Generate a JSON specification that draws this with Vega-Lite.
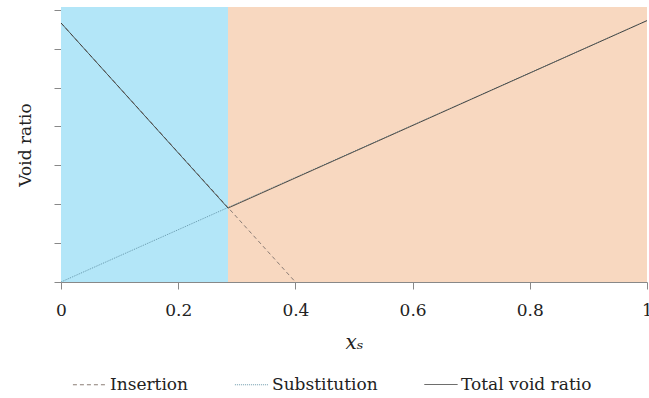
{
  "$schema": "https://vega.github.io/schema/vega-lite/v6.json",
  "width": 586,
  "height": 275,
  "autosize": {"type": "none"},
  "padding": {"left": 61, "top": 7, "right": 2, "bottom": 116},
  "background": "white",
  "config": {
    "view": {"stroke": null},
    "font": "DejaVu Serif",
    "axis": {"labelFont": "DejaVu Serif", "titleFont": "DejaVu Serif", "domainColor": "#888", "tickColor": "#888", "grid": false},
    "legend": {"labelFont": "DejaVu Serif"}
  },
  "datasets": {
    "regions": [
      {"x0": 0, "x1": 0.285, "region": "insertion"},
      {"x0": 0.285, "x1": 1, "region": "substitution"}
    ],
    "lines": [
      {"series": "Insertion", "x": 0, "y": 0.666},
      {"series": "Insertion", "x": 0.4, "y": 0},
      {"series": "Substitution", "x": 0, "y": 0},
      {"series": "Substitution", "x": 1, "y": 0.672},
      {"series": "Total void ratio", "x": 0, "y": 0.666},
      {"series": "Total void ratio", "x": 0.285, "y": 0.19},
      {"series": "Total void ratio", "x": 1, "y": 0.672}
    ]
  },
  "layer": [
    {
      "data": {"name": "regions"},
      "mark": {"type": "rect"},
      "encoding": {
        "x": {"field": "x0", "type": "quantitative", "scale": {"domain": [0, 1], "nice": false, "zero": false},
          "axis": {"values": [0, 0.2, 0.4, 0.6, 0.8, 1], "labelFlush": false, "labelExpr": "datum.value == 0 ? '0' : datum.value == 1 ? '1' : format(datum.value, '.1f')", "labelFontSize": 17, "labelColor": "#222", "labelPadding": 13, "tickSize": 7, "title": "xₛ", "titleFontStyle": "italic", "titleFontWeight": "normal", "titleFontSize": 20, "titleColor": "#222", "titlePadding": 14}},
        "x2": {"field": "x1"},
        "y": {"datum": 0, "type": "quantitative", "scale": {"domain": [0, 0.707], "nice": false},
          "axis": {"values": [0, 0.1, 0.2, 0.3, 0.4, 0.5, 0.6, 0.7], "labels": false, "tickSize": 7, "title": "Void ratio", "titleFontSize": 17, "titleFontWeight": "normal", "titleColor": "#222", "titlePadding": 19}},
        "y2": {"datum": 0.707},
        "fill": {"field": "region", "type": "nominal", "scale": {"domain": ["insertion", "substitution"], "range": ["#b3e6f8", "#f8d8c0"]}, "legend": null}
      }
    },
    {
      "data": {"name": "lines"},
      "mark": {"type": "line", "clip": true},
      "encoding": {
        "x": {
          "field": "x", "type": "quantitative",
          "scale": {"domain": [0, 1], "nice": false, "zero": false},
          "axis": {"values": [0, 0.2, 0.4, 0.6, 0.8, 1], "labelFlush": false, "labelExpr": "datum.value == 0 ? '0' : datum.value == 1 ? '1' : format(datum.value, '.1f')", "labelFontSize": 17, "labelColor": "#222", "labelPadding": 13, "tickSize": 7, "title": "xₛ", "titleFontStyle": "italic", "titleFontWeight": "normal", "titleFontSize": 20, "titleColor": "#222", "titlePadding": 14}
        },
        "y": {
          "field": "y", "type": "quantitative",
          "scale": {"domain": [0, 0.707], "nice": false},
          "axis": {"values": [0, 0.1, 0.2, 0.3, 0.4, 0.5, 0.6, 0.7], "labels": false, "tickSize": 7, "title": "Void ratio", "titleFontSize": 17, "titleFontWeight": "normal", "titleColor": "#222", "titlePadding": 19}
        },
        "color": {
          "field": "series", "type": "nominal",
          "scale": {"domain": ["Insertion", "Substitution", "Total void ratio"], "range": ["#8a7c74", "#5d8ea3", "#1e1e1c"]},
          "legend": {"orient": "none", "legendX": 11, "legendY": 360, "direction": "horizontal", "title": null, "labelFontSize": 17, "labelColor": "#222", "symbolType": "stroke", "symbolSize": 1100, "symbolStrokeWidth": 1.3, "columnPadding": 44, "labelOffset": 3}
        },
        "strokeDash": {
          "field": "series", "type": "nominal",
          "scale": {"domain": ["Insertion", "Substitution", "Total void ratio"], "range": [[4, 3], [1, 1], [1, 0]]}
        },
        "strokeWidth": {
          "field": "series", "type": "nominal",
          "scale": {"domain": ["Insertion", "Substitution", "Total void ratio"], "range": [1, 0.8, 1.8]},
          "legend": null
        },
        "order": {"field": "x", "type": "quantitative"}
      }
    }
  ]
}
